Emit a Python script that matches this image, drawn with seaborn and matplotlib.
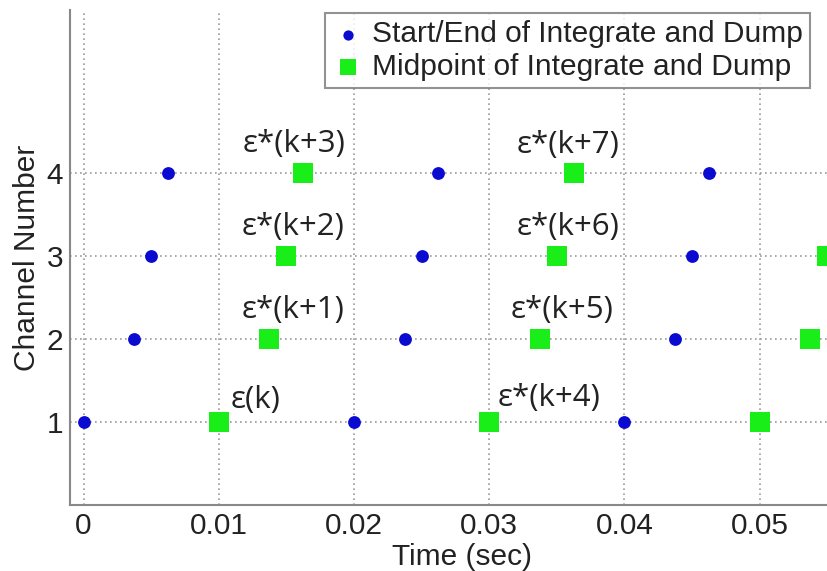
import numpy as np
import pandas as pd
import matplotlib
matplotlib.use("Agg")
import matplotlib.pyplot as plt
import seaborn as sns

# ---- data ----
channels = [1, 2, 3, 4]
start_end_times = {
    1: [0.0, 0.02, 0.04],
    2: [0.00375, 0.02375, 0.04375],
    3: [0.005, 0.025, 0.045],
    4: [0.00625, 0.02625, 0.04625],
}
midpoint_times = {
    1: [0.01, 0.03, 0.05],
    2: [0.01375, 0.03375, 0.05375],
    3: [0.015, 0.035, 0.055],
    4: [0.01625, 0.03625],
}
series_names = ["Start/End of Integrate and Dump", "Midpoint of Integrate and Dump"]
annot_labels = ["ε(k)", "ε*(k+1)", "ε*(k+2)", "ε*(k+3)",
                "ε*(k+4)", "ε*(k+5)", "ε*(k+6)", "ε*(k+7)"]
annot_x = [0.0109, 0.0117, 0.0117, 0.0118, 0.0306, 0.0316, 0.0320, 0.0320]
annot_y = [1.27, 2.35, 3.35, 4.35, 1.29, 2.35, 3.35, 4.33]
x_ticks = [0, 0.01, 0.02, 0.03, 0.04, 0.05]
x_tick_labels = ["0", "0.01", "0.02", "0.03", "0.04", "0.05"]
y_ticks = [1, 2, 3, 4]

rows = []
for ch in channels:
    for t in start_end_times[ch]:
        rows.append({"Time": t, "Channel": ch, "kind": series_names[0]})
for ch in channels:
    for t in midpoint_times[ch]:
        rows.append({"Time": t, "Channel": ch, "kind": series_names[1]})
df = pd.DataFrame(rows)

sns.set_theme(style="white")
plt.rcParams["font.family"] = ["Liberation Sans", "DejaVu Sans"]

W, H = 827, 571
fig = plt.figure(figsize=(W / 100, H / 100), dpi=100)
xlim = (-0.001, 0.057)
ax_w_px = (xlim[1] - xlim[0]) * 13520
ax = fig.add_axes([70 / W, 66 / H, ax_w_px / W, (505 - 10) / H])

palette = {series_names[0]: "#0a0ad0", series_names[1]: "#19ee19"}
markers = {series_names[0]: "o", series_names[1]: "s"}
sizes = {series_names[0]: 85, series_names[1]: 190}

for name in series_names:
    sub = df[df["kind"] == name]
    sns.scatterplot(data=sub, x="Time", y="Channel", ax=ax,
                    color=palette[name], marker=markers[name],
                    s=sizes[name], linewidth=0, label=name, zorder=3,
                    clip_on=False)

ax.set_xlim(*xlim)
ax.set_ylim(0, 5.96)
ax.set_xticks(x_ticks)
ax.set_xticklabels(x_tick_labels)
ax.set_yticks(y_ticks)
ax.tick_params(axis="both", labelsize=21.5, colors="#222222", direction="in",
               length=5, width=1, pad=5)
ax.tick_params(axis="both", color="#888888")
ax.grid(True, linestyle=(0, (1, 2)), color="#9a9a9a", linewidth=1.2)
for s in ["top", "right"]:
    ax.spines[s].set_visible(False)
for s in ["left", "bottom"]:
    ax.spines[s].set_color("#888888")
    ax.spines[s].set_linewidth(1.5)

ax.set_xlabel("Time (sec)", fontsize=21.5, color="#222222", labelpad=2)
ax.set_ylabel("Channel Number", fontsize=21.5, color="#222222", labelpad=4)

for lab, x, y in zip(annot_labels, annot_x, annot_y):
    ax.text(x, y, lab, ha="left", va="center", fontsize=22.5,
            family=["Open Sans", "DejaVu Sans"], color="#222222",
            zorder=4)

leg = ax.legend(loc="upper right", bbox_to_anchor=(810 / W, 1 - 13 / H),
                bbox_transform=fig.transFigure, fontsize=21.5, frameon=True,
                fancybox=False, borderpad=0.25, handletextpad=0.3,
                labelspacing=0.15, borderaxespad=0, handlelength=1.0,
                markerscale=0.8)
leg.get_frame().set_edgecolor("#777777")
leg.get_frame().set_linewidth(1.5)
for t in leg.get_texts():
    t.set_color("#222222")

fig.savefig("out.png", dpi=100)
